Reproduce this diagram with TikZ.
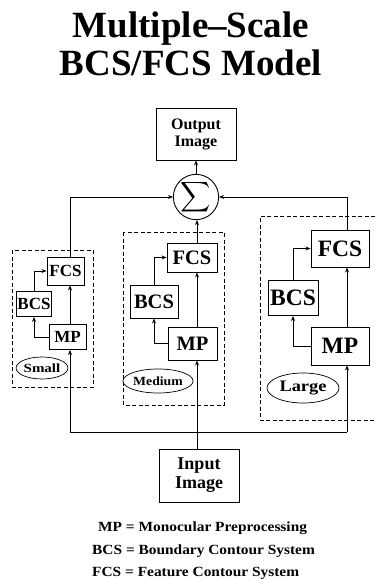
\documentclass[tikz,border=0pt]{standalone}
\usepackage{fontspec}
\setmainfont{Liberation Serif}
\usepackage{graphicx}
\usetikzlibrary{arrows.meta,shapes.geometric}
\newcommand\mysz[2]{\fontsize{#1}{#2}\selectfont}
\begin{document}
\begin{tikzpicture}[x=1pt,y=-1pt,
  box/.style={draw,line width=0.9pt,inner sep=0pt,align=center},
  grp/.style={draw,line width=0.8pt,dash pattern=on 4pt off 2.5pt},
  con/.style={line width=0.9pt},
  arr/.style={con,-{Stealth[length=5pt,width=4pt]}},
  oval/.style={draw,ellipse,line width=0.7pt,inner sep=0pt},
  legend/.style={anchor=base west,inner sep=0pt,font=\bfseries\mysz{14}{14}},
]
\useasboundingbox (0,0) rectangle (375,580);
% title
\node[anchor=base,font=\bfseries\mysz{37}{40}] (t1) at (191,38) {Multiple--Scale};
\node[anchor=base,font=\bfseries\mysz{37}{40}] (t2) at (191,76) {BCS/FCS Model};
% output and sum
\node[box,minimum width=80pt,minimum height=52pt,font=\bfseries\mysz{16}{17}] (out) at (196,134) {Output\\Image};
\node[circle,draw,line width=0.9pt,minimum size=40pt,inner sep=0pt] (sum) at (196,197) {\scalebox{2.1}{$\displaystyle\sum$}};
\draw[arr] (sum.north) -- (out.south);
% small scale
\draw[grp] (12,250) rectangle (93,387);
\node[box,minimum width=37pt,minimum height=28pt,font=\bfseries\mysz{17}{17}] (sfcs) at (65.5,271) {FCS};
\node[box,minimum width=35pt,minimum height=25pt,font=\bfseries\mysz{17}{17}] (sbcs) at (34,304) {BCS};
\node[box,minimum width=37pt,minimum height=25pt,font=\bfseries\mysz{17}{17}] (smp) at (67.5,337) {MP};
\node[oval,minimum width=50pt,minimum height=22pt,font=\bfseries\mysz{12.5}{13}] (sell) at (42,368) {\scalebox{1.2}[1]{Small}};
\coordinate (sx) at (70,0);
\draw[arr] (smp.west) -| (sbcs.south);
\draw[arr] (sbcs.north) |- (sfcs.west);
\draw[arr] (smp.north -| sx) -- (sfcs.south -| sx);
\draw[arr] (sfcs.north -| sx) |- (sum.west);
% medium scale
\draw[grp] (123,232) rectangle (224,405);
\node[box,minimum width=50pt,minimum height=29pt,font=\bfseries\mysz{20.5}{21}] (mfcs) at (192,257.5) {FCS};
\node[box,minimum width=48pt,minimum height=33pt,font=\bfseries\mysz{20.5}{21}] (mbcs) at (154,301.5) {BCS};
\node[box,minimum width=49pt,minimum height=33pt,font=\bfseries\mysz{20.5}{21}] (mmp) at (192.5,343.5) {MP};
\node[oval,minimum width=62pt,minimum height=24pt,font=\bfseries\mysz{12.5}{13}] (mell) at (158,381) {\scalebox{1.1}[1]{Medium}};
\coordinate (mx) at (197,0);
\draw[arr] (mmp.west) -| (mbcs.south);
\draw[arr] (mbcs.north) |- (mfcs.west);
\draw[arr] (mmp.north -| mx) -- (mfcs.south -| mx);
\draw[arr] (mfcs.north -| mx) -- (sum.south -| mx);
% large scale
\draw[grp] (375,216) -- (260,216) -- (260,420) -- (375,420);
\node[box,minimum width=58pt,minimum height=37pt,font=\bfseries\mysz{23.5}{24}] (lfcs) at (340,248.5) {FCS};
\node[box,minimum width=50pt,minimum height=35pt,font=\bfseries\mysz{23.5}{24}] (lbcs) at (293,298) {BCS};
\node[box,minimum width=58pt,minimum height=38pt,font=\bfseries\mysz{23.5}{24}] (lmp) at (340,346) {MP};
\node[oval,minimum width=72pt,minimum height=30pt,font=\bfseries\mysz{16}{16}] (lell) at (303,388) {\scalebox{1.15}[1]{Large}};
\coordinate (lx) at (347,0);
\draw[arr] (lmp.west) -| (lbcs.south);
\draw[arr] (lbcs.north) |- (lfcs.west);
\draw[arr] (lmp.north -| lx) -- (lfcs.south -| lx);
\draw[arr] (lfcs.north -| lx) |- (sum.east);
% input
\node[box,minimum width=80pt,minimum height=53pt,font=\bfseries\mysz{18}{19}] (inp) at (199,475.5) {Input\\Image};
\coordinate (jl) at (70,432);
\coordinate (jr) at (347,432);
\draw[con] (jl) -- (jr);
\draw[arr] (inp.north -| mx) -- (mmp.south -| mx);
\draw[arr] (jl) -- (smp.south -| jl);
\draw[arr] (jr) -- (lmp.south -| jr);
% legend
\node[legend] (l1) at (98,531) {\scalebox{1.1}[1]{MP = Monocular Preprocessing}};
\node[legend] (l2) at (92,554) {\scalebox{1.1}[1]{BCS = Boundary Contour System}};
\node[legend] (l3) at (92,576) {\scalebox{1.1}[1]{FCS = Feature Contour System}};
\end{tikzpicture}
\end{document}
